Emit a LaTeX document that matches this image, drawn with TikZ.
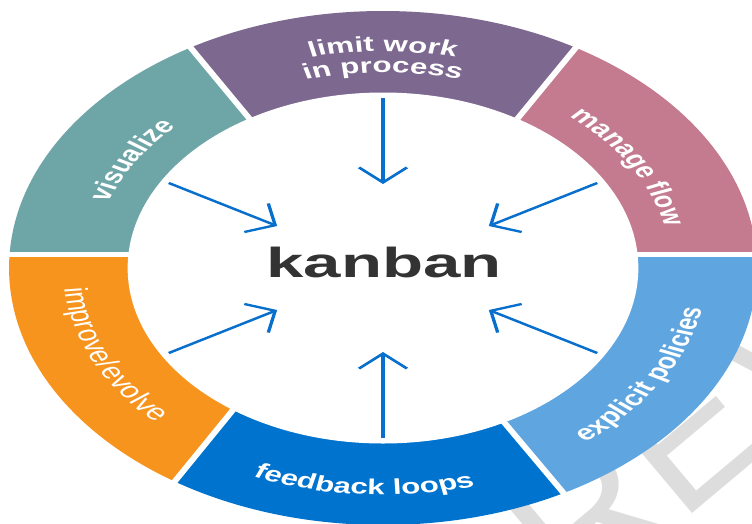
\documentclass[tikz,border=0pt]{standalone}
\usepackage{fontspec}
\usepackage{graphicx}
\setmainfont{Liberation Sans}
\usetikzlibrary{decorations.text, arrows.meta, calc}
\definecolor{cTeal}{HTML}{6EA6A8}
\definecolor{cPurple}{HTML}{7D6890}
\definecolor{cPink}{HTML}{C47A8F}
\definecolor{cLight}{HTML}{5FA5E0}
\definecolor{cBlue}{HTML}{0073CF}
\definecolor{cOrange}{HTML}{F7941D}
\definecolor{cArrow}{HTML}{0870CC}
\definecolor{cKanban}{HTML}{333333}
\definecolor{cMark}{HTML}{DDDDDD}
\newcommand\lblfont{\fontsize{21.5}{21.5}\selectfont\bfseries}
\newcommand\lblfontreg{\fontsize{22.5}{22.5}\selectfont}
\newcommand\ringseg[3]{\fill[#1] ($(#2i)!-0.4!(#2o)$) -- ($(#2i)!2.2!(#2o)$) -- ($(#3i)!2.2!(#3o)$) -- ($(#3i)!-0.4!(#3o)$) -- cycle;}
\newcommand\gapcut[1]{\draw[gapline] ($(#1i)!-0.05!(#1o)$) -- ($(#1i)!1.06!(#1o)$);}
\begin{document}
\begin{tikzpicture}[x=1pt,y=1pt,
  arr/.style={draw=cArrow, line width=2.3pt, -{Straight Barb[length=15pt,width=33pt]}},
  gapline/.style={draw=white, line width=4.5pt},
  lbl/.style={decorate, decoration={text along path, text color=white, text align=center, text={|\lblfont|#1}}},
  lblreg/.style={decorate, decoration={text along path, text color=white, text align=center, text={|\lblfontreg|#1}}}]
\useasboundingbox (-383,-255) rectangle (369,268);
\clip (-383,-255) rectangle (369,268);
\fill[white] (-383,-255) rectangle (369,268);
% watermark
\node[rotate=40, anchor=base west, text=cMark, font=\fontsize{190}{190}\selectfont, inner sep=0pt] (wm) at (95,-425) {PREVIEW};
\begin{scope}[transform canvas={xscale=1.455}]
  % gap lines (inner / outer points)
  \coordinate (Ri) at (175.5,13.5);   \coordinate (Ro) at (257,13.5);
  \coordinate (G2i) at (94.2,152.5);  \coordinate (G2o) at (132.6,220.5);
  \coordinate (G1i) at (-92.4,150.5); \coordinate (G1o) at (-132.3,220.5);
  \coordinate (Li) at (-175.5,13.5);  \coordinate (Lo) at (-257,13.5);
  \coordinate (G3i) at (-103.4,-142.5); \coordinate (G3o) at (-142.6,-212.5);
  \coordinate (G4i) at (84.2,-156);   \coordinate (G4o) at (124.1,-225);
  \begin{scope}
    \clip (0,0) circle[radius=257pt];
    \ringseg{cPink}{R}{G2}
    \ringseg{cPurple}{G2}{G1}
    \ringseg{cTeal}{G1}{L}
    \ringseg{cOrange}{L}{G3}
    \ringseg{cBlue}{G3}{G4}
    \ringseg{cLight}{G4}{R}
  \end{scope}
  \fill[white] (0,0) circle[radius=175.5pt];
  \gapcut{R}\gapcut{G2}\gapcut{G1}\gapcut{L}\gapcut{G3}\gapcut{G4}
  % labels
  \path[lbl={limit work}] (125:216.5) arc[start angle=125, end angle=55, radius=216.5pt];
  \path[lbl={in process}] (125:195.5) arc[start angle=125, end angle=55, radius=195.5pt];
  \path[lbl={visualize}] (176:200) arc[start angle=176, end angle=120, radius=200pt];
  \path[lbl={manage flow}] (59:198) arc[start angle=59, end angle=3, radius=198pt];
  \path[lblreg={improve/evolve}] (174:220) arc[start angle=174, end angle=236, radius=220pt];
  \path[lbl={feedback loops}] (-130:227) arc[start angle=-130, end angle=-57, radius=227pt];
  \path[lbl={explicit policies}] (-63:223) arc[start angle=-63, end angle=1, radius=223pt];
  % centre
  \node[anchor=base, text=cKanban, font=\fontsize{42}{42}\selectfont\bfseries, inner sep=0pt] (kb) at (0.7,-9) {\scalebox{1.1}[1]{kanban}};
  % arrows
  \foreach \a in {90,150,30,210,330,270}{
    \coordinate (s\a) at (\a:170);
    \coordinate (e\a) at (\a:84);
    \draw[arr] (s\a) -- (e\a);
  }
\end{scope}
\end{tikzpicture}
\end{document}
